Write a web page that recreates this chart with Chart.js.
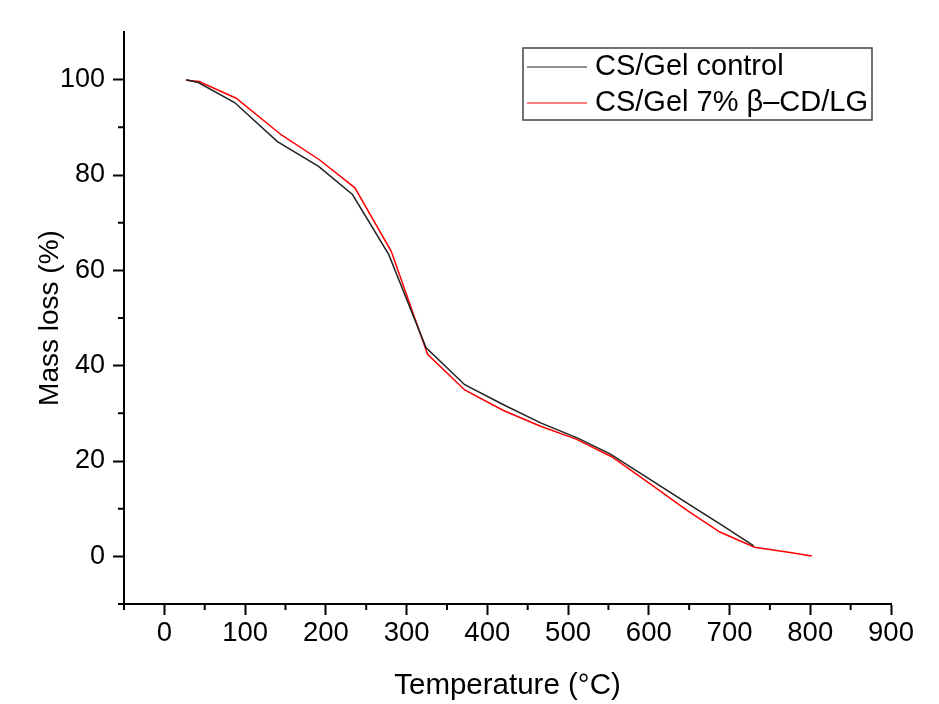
<!DOCTYPE html>
<html>
<head>
<meta charset="utf-8">
<script src="https://cdn.jsdelivr.net/npm/chart.js@4"></script>
<style>
  html, body { margin: 0; padding: 0; background: #fff; }
  canvas { display: block; }
</style>
</head>
<body>
<canvas id="tga" width="939" height="704"></canvas>
<script>
// values
var controlTemp = [27, 42, 87, 140, 191, 233, 278, 324, 372, 420, 466, 512, 552, 600, 645, 690, 730];
var controlMass = [100, 99.4, 95.2, 87.0, 81.8, 75.9, 63.3, 43.8, 36.0, 31.8, 28.0, 24.8, 21.5, 16.3, 11.4, 6.6, 2.2];
var bcdTemp = [27, 43, 89, 145, 192, 236, 281, 326, 372, 420, 466, 510, 554, 600, 647, 688, 731, 775, 802];
var bcdMass = [99.9, 99.6, 96.1, 88.4, 83.2, 77.3, 64.0, 42.4, 34.9, 30.6, 27.3, 24.6, 20.9, 15.4, 9.7, 5.1, 1.9, 0.8, 0.05];
var seriesNames = ["CS/Gel control", "CS/Gel 7% \u03B2\u2013CD/LG"];
var xMajor = [0, 100, 200, 300, 400, 500, 600, 700, 800, 900];
var xMinor = [-50, 50, 150, 250, 350, 450, 550, 650, 750, 850];
var yMajor = [0, 20, 40, 60, 80, 100];
var yMinor = [-10, 10, 30, 50, 70, 90];

function toPoints(xs, ys) {
    var pts = [];
    for (var i = 0; i < xs.length; i++) {
        pts.push({x: xs[i], y: ys[i]});
    }
    return pts;
}

var FONT = "'Liberation Sans', Arial, sans-serif";

// short ticks between the labelled ones
var minorTicks = {
    id: "minorTicks",
    afterDraw: function(chart) {
        var ctx = chart.ctx;
        var xs = chart.scales.x, ys = chart.scales.y;
        ctx.save();
        ctx.strokeStyle = "#000";
        ctx.lineWidth = 2;
        ctx.beginPath();
        xMinor.forEach(function(v) {
            var px = xs.getPixelForValue(v);
            ctx.moveTo(px, xs.top);
            ctx.lineTo(px, xs.top + 6);
        });
        yMinor.forEach(function(v) {
            var py = ys.getPixelForValue(v);
            ctx.moveTo(ys.right, py);
            ctx.lineTo(ys.right - 6, py);
        });
        ctx.stroke();
        ctx.restore();
    }
};

// boxed legend inside the plot, like Origin does it
var boxLegend = {
    id: "boxLegend",
    afterDraw: function(chart) {
        var ctx = chart.ctx;
        var left = 523, top = 48, width = 349, height = 72;
        ctx.save();
        ctx.strokeStyle = "#444";
        ctx.lineWidth = 1.5;
        ctx.strokeRect(left, top, width, height);
        ctx.font = "29px " + FONT;
        ctx.textBaseline = "middle";
        ctx.fillStyle = "#000";
        chart.data.datasets.forEach(function(ds, i) {
            var y = top + 19 + i * 36;
            ctx.strokeStyle = ds.borderColor;
            ctx.lineWidth = 1.2;
            ctx.beginPath();
            ctx.moveTo(left + 4, y);
            ctx.lineTo(left + 64, y);
            ctx.stroke();
            ctx.fillText(ds.label, left + 72, y);
        });
        ctx.restore();
    }
};

var ctx0 = document.getElementById("tga");
var myChart = new Chart(ctx0, {
    type: "line",
    data: {
        datasets: [
            {label: seriesNames[0], data: toPoints(controlTemp, controlMass), borderColor: "#222", borderWidth: 1.5, pointRadius: 0, fill: false, tension: 0},
            {label: seriesNames[1], data: toPoints(bcdTemp, bcdMass), borderColor: "#ff0000", borderWidth: 1.5, pointRadius: 0, fill: false, tension: 0}
        ]
    },
    options: {
        responsive: false,
        animation: false,
        layout: {padding: {top: 32, right: 48, left: 0, bottom: 0}},
        plugins: {legend: {display: false}, tooltip: {enabled: false}},
        scales: {
            x: {
                type: "linear",
                min: -50,
                max: 900,
                afterBuildTicks: function(s) { s.ticks = xMajor.map(function(v) { return {value: v}; }); },
                afterFit: function(s) { s.height = 100; },
                border: {color: "#000", width: 2},
                grid: {drawOnChartArea: false, tickLength: 11, tickColor: "#000", tickWidth: 2},
                ticks: {color: "#000", font: {family: FONT, size: 27.5}, padding: 2, maxRotation: 0, autoSkip: false},
                title: {display: true, text: "Temperature (\u00B0C)", color: "#000", font: {family: FONT, size: 29.5}, padding: {top: 0, bottom: 0}}
            },
            y: {
                min: -10,
                max: 110,
                afterBuildTicks: function(s) { s.ticks = yMajor.map(function(v) { return {value: v}; }); },
                afterFit: function(s) { s.width = 124; },
                border: {color: "#000", width: 2},
                grid: {drawOnChartArea: false, tickLength: 11, tickColor: "#000", tickWidth: 2},
                ticks: {color: "#000", font: {family: FONT, size: 27}, padding: 8, autoSkip: false},
                title: {display: true, text: "Mass loss (%)", color: "#000", font: {family: FONT, size: 28}, padding: {top: 33, bottom: 0}}
            }
        }
    },
    plugins: [minorTicks, boxLegend]
});
</script>
</body>
</html>
